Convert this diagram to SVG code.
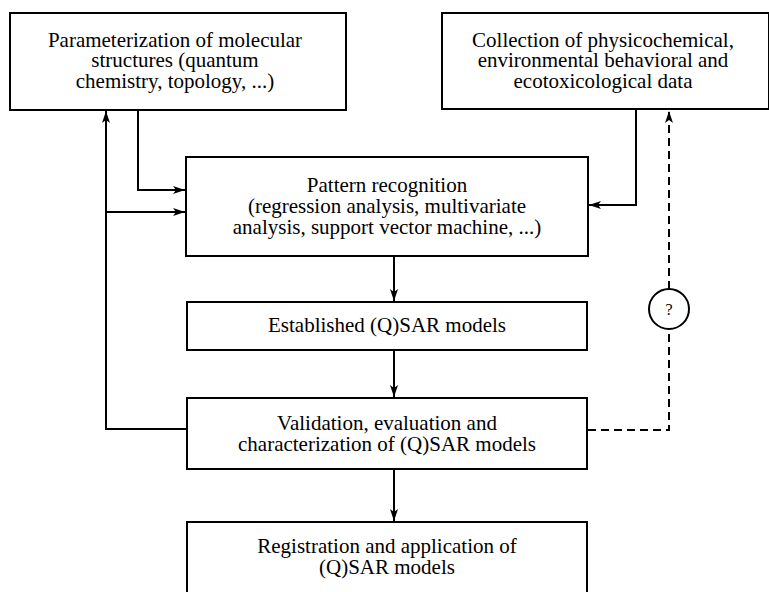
<svg xmlns="http://www.w3.org/2000/svg" width="769" height="592" viewBox="0 0 769 592">
<style>
.box{fill:#fff;stroke:#000;stroke-width:2}
.t{font-family:"Liberation Serif","Times New Roman",serif;font-size:21px;fill:#000;text-anchor:middle}
.c{fill:none;stroke:#000;stroke-width:2}
.d{fill:none;stroke:#000;stroke-width:2;stroke-dasharray:8,5}
</style>
<defs>
<marker id="ah" viewBox="0 0 12 8" refX="12" refY="4" markerWidth="12" markerHeight="8" markerUnits="userSpaceOnUse" orient="auto">
<path d="M0,0 L12,4 L0,8 L3,4 Z" fill="#000"/>
</marker>
</defs>
<rect width="769" height="592" fill="#fff"/>
<g id="connectors">
<polyline class="c" points="138,110 138,190 185,190" marker-end="url(#ah)"/>
<polyline class="c" points="636,109 636,205 589,205" marker-end="url(#ah)"/>
<polyline class="c" points="187,429 106,429 106,111" marker-end="url(#ah)"/>
<line class="c" x1="106" y1="212" x2="185" y2="212" marker-end="url(#ah)"/>
<line class="c" x1="394" y1="257" x2="394" y2="301" marker-end="url(#ah)"/>
<line class="c" x1="394" y1="351" x2="394" y2="397" marker-end="url(#ah)"/>
<line class="c" x1="394" y1="470" x2="394" y2="521" marker-end="url(#ah)"/>
<polyline class="d" points="588,430 669,430 669,330"/>
<line class="d" x1="669" y1="289" x2="669" y2="111" marker-end="url(#ah)"/>
</g>
<g id="n1">
<rect class="box" x="10" y="13" width="336" height="97"/>
<text class="t" x="175" y="47">Parameterization of molecular</text>
<text class="t" x="175" y="67">structures (quantum</text>
<text class="t" x="175" y="88">chemistry, topology, ...)</text>
</g>
<g id="n2">
<rect class="box" x="442" y="13" width="327" height="96"/>
<text class="t" x="603" y="47">Collection of physicochemical,</text>
<text class="t" x="603" y="67">environmental behavioral and</text>
<text class="t" x="603" y="88">ecotoxicological data</text>
</g>
<g id="n3">
<rect class="box" x="186" y="157" width="402" height="99"/>
<text class="t" x="387" y="192">Pattern recognition</text>
<text class="t" x="387" y="213">(regression analysis, multivariate</text>
<text class="t" x="387" y="234">analysis, support vector machine, ...)</text>
</g>
<g id="n4">
<rect class="box" x="187" y="302" width="400" height="48"/>
<text class="t" x="387" y="332">Established (Q)SAR models</text>
</g>
<g id="n5">
<rect class="box" x="187" y="398" width="400" height="71"/>
<text class="t" x="387" y="430">Validation, evaluation and</text>
<text class="t" x="387" y="451">characterization of (Q)SAR models</text>
</g>
<g id="n6">
<rect class="box" x="187" y="522" width="400" height="80"/>
<text class="t" x="387" y="553">Registration and application of</text>
<text class="t" x="387" y="574">(Q)SAR models</text>
</g>
<g id="q">
<circle class="box" cx="669" cy="309" r="20"/>
<text class="t" x="669" y="315" style="font-size:16px">?</text>
</g>
</svg>
